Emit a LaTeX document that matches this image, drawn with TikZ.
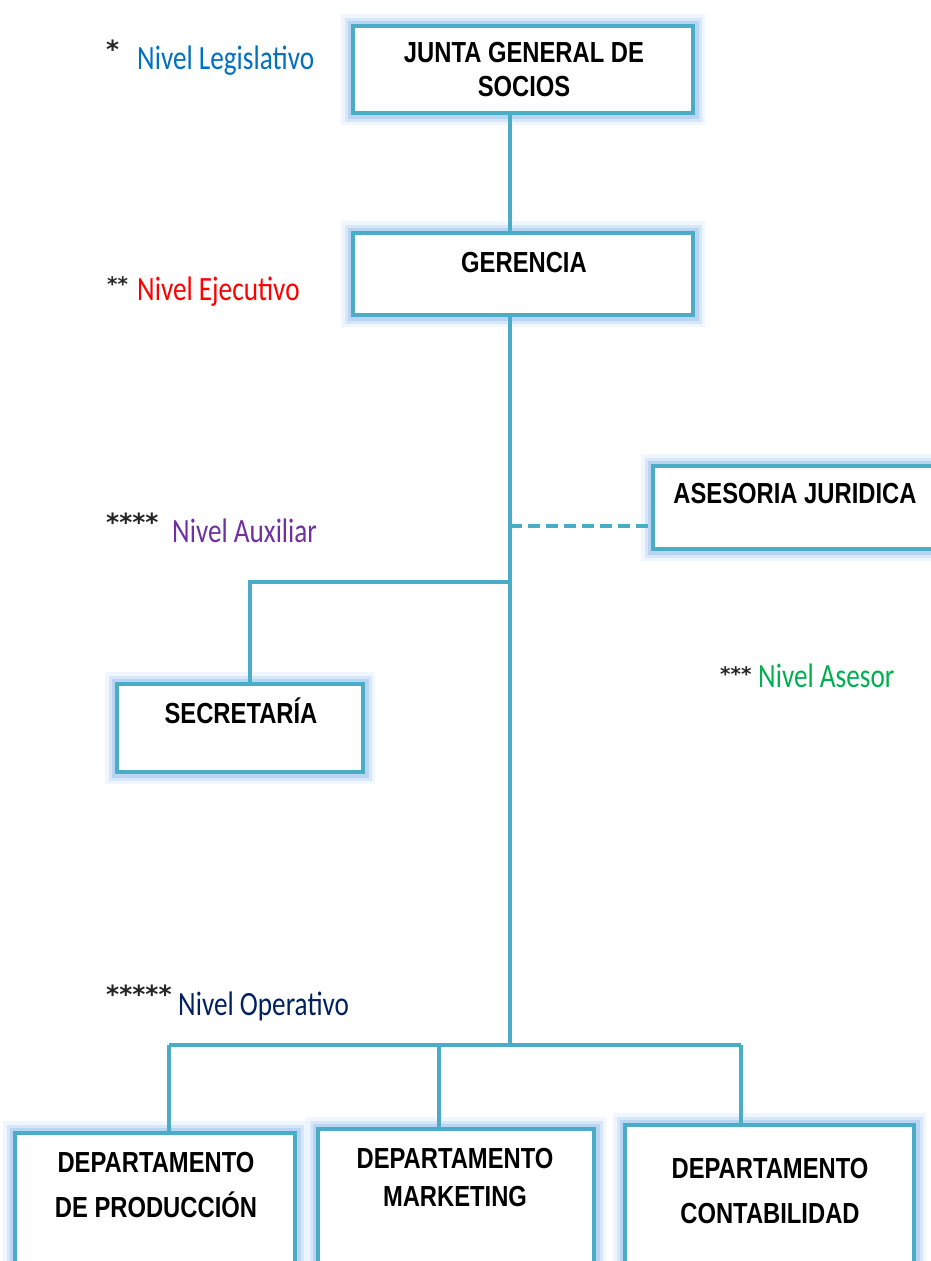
\documentclass[tikz,border=0pt]{standalone}
\usepackage{fontspec}
\newfontfamily\boxfont[FakeStretch=0.82]{Liberation Sans}
\newfontfamily\lblfont[FakeStretch=0.8]{Carlito}
\newfontfamily\starfont{DejaVu Sans}
\definecolor{tealb}{HTML}{4BACC6}
\definecolor{glowb}{HTML}{9DC3F0}
\definecolor{legblue}{HTML}{0070C0}
\definecolor{ejered}{HTML}{FF0000}
\definecolor{auxpurple}{HTML}{7030A0}
\definecolor{asegreen}{HTML}{00B050}
\definecolor{opnavy}{HTML}{002060}
\tikzset{
  orgbox/.style={rectangle, draw=tealb, line width=4.5pt, fill=white, inner sep=0pt,
    preaction={draw=glowb, line width=24pt, opacity=0.15},
    preaction={draw=glowb, line width=17pt, opacity=0.3},
    preaction={draw=glowb, line width=11pt, opacity=0.5}},
  btext/.style={inner sep=0pt, align=center, text=black,
    font=\boxfont\bfseries\fontsize{29}{34}\selectfont},
  conn/.style={draw=tealb, line width=4pt},
  dashconn/.style={conn, dash pattern=on 12pt off 6pt},
  lbl/.style={inner sep=0pt, font=\lblfont\fontsize{34}{40}\selectfont},
  stars/.style={inner sep=0pt, text=black!85, font=\starfont\bfseries\fontsize{25}{30}\selectfont},
  smallstars/.style={stars, font=\starfont\bfseries\fontsize{20}{24}\selectfont}
}
\begin{document}
\begin{tikzpicture}[x=1pt,y=-1pt]
\useasboundingbox (0,0) rectangle (931,1261);
\clip (0,0) rectangle (931,1261);

% named coordinates for connector routing
\coordinate (tk) at (510,0);
\coordinate (asJ) at (510,526);
\coordinate (secJ) at (510,582);
\coordinate (opJ) at (510,1045);
\coordinate (secX) at (250,0);
\coordinate (prodX) at (169,0);
\coordinate (mktX) at (439,0);
\coordinate (contX) at (741,0);

% boxes
\path (523,69.5) node[orgbox, minimum width=340pt, minimum height=87pt] (junta) {};
\path (523,274) node[orgbox, minimum width=340pt, minimum height=82pt] (gerencia) {};
\path (797,507.5) node[orgbox, minimum width=288pt, minimum height=83pt] (asesoria) {};
\path (240,728) node[orgbox, minimum width=246pt, minimum height=88pt] (secretaria) {};
\path (155,1213) node[orgbox, minimum width=280pt, minimum height=160pt] (prod) {};
\path (456,1209) node[orgbox, minimum width=276pt, minimum height=160pt] (mkt) {};
\path (769.5,1205) node[orgbox, minimum width=289pt, minimum height=160pt] (cont) {};

% connectors
\draw[conn] (junta.south -| tk) -- (gerencia.north -| tk);
\draw[conn] (gerencia.south -| tk) -- (opJ);
\draw[dashconn] (asJ) -- (asJ -| asesoria.west);
\draw[conn] (secJ) -- (secJ -| secX) -- (secretaria.north -| secX);
\draw[conn] (opJ -| prodX) -- (opJ -| contX);
\draw[conn] (opJ -| prodX) -- (prod.north -| prodX);
\draw[conn] (opJ -| mktX) -- (mkt.north -| mktX);
\draw[conn] (opJ -| contX) -- (cont.north -| contX);

% box texts
\node[btext, anchor=center] (juntaT) at (524,70) {JUNTA GENERAL DE\\SOCIOS};
\node[btext, anchor=base] (gerT) at (524,272) {GERENCIA};
\node[btext, anchor=base] (aseT) at (795,503) {ASESORIA JURIDICA};
\node[btext, anchor=base] (secT) at (241,723) {SECRETARÍA};
\node[btext, anchor=center, font=\boxfont\bfseries\fontsize{29}{45}\selectfont] (prodT) at (156,1185) {DEPARTAMENTO\\DE PRODUCCIÓN};
\node[btext, anchor=center, font=\boxfont\bfseries\fontsize{29}{38}\selectfont] (mktT) at (455,1178) {DEPARTAMENTO\\MARKETING};
\node[btext, anchor=center, font=\boxfont\bfseries\fontsize{29}{45}\selectfont] (contT) at (770,1191) {DEPARTAMENTO\\CONTABILIDAD};

% level labels
\node[stars, anchor=north west] (s1) at (106,40) {*};
\node[lbl, text=legblue, anchor=base west] (l1) at (137,69) {Nivel Legislativo};
\node[smallstars, anchor=north west] (s2) at (107,276) {**};
\node[lbl, text=ejered, anchor=base west] (l2) at (137,300) {Nivel Ejecutivo};
\node[stars, anchor=north west] (s4) at (106,513) {****};
\node[lbl, text=auxpurple, anchor=base west] (l4) at (172,542) {Nivel Auxiliar};
\node[smallstars, anchor=north west] (s3) at (720,666) {***};
\node[lbl, text=asegreen, anchor=base west] (l3) at (758,687) {Nivel Asesor};
\node[stars, anchor=north west] (s5) at (106,985) {*****};
\node[lbl, text=opnavy, anchor=base west] (l5) at (178,1015) {Nivel Operativo};
\end{tikzpicture}
\end{document}
